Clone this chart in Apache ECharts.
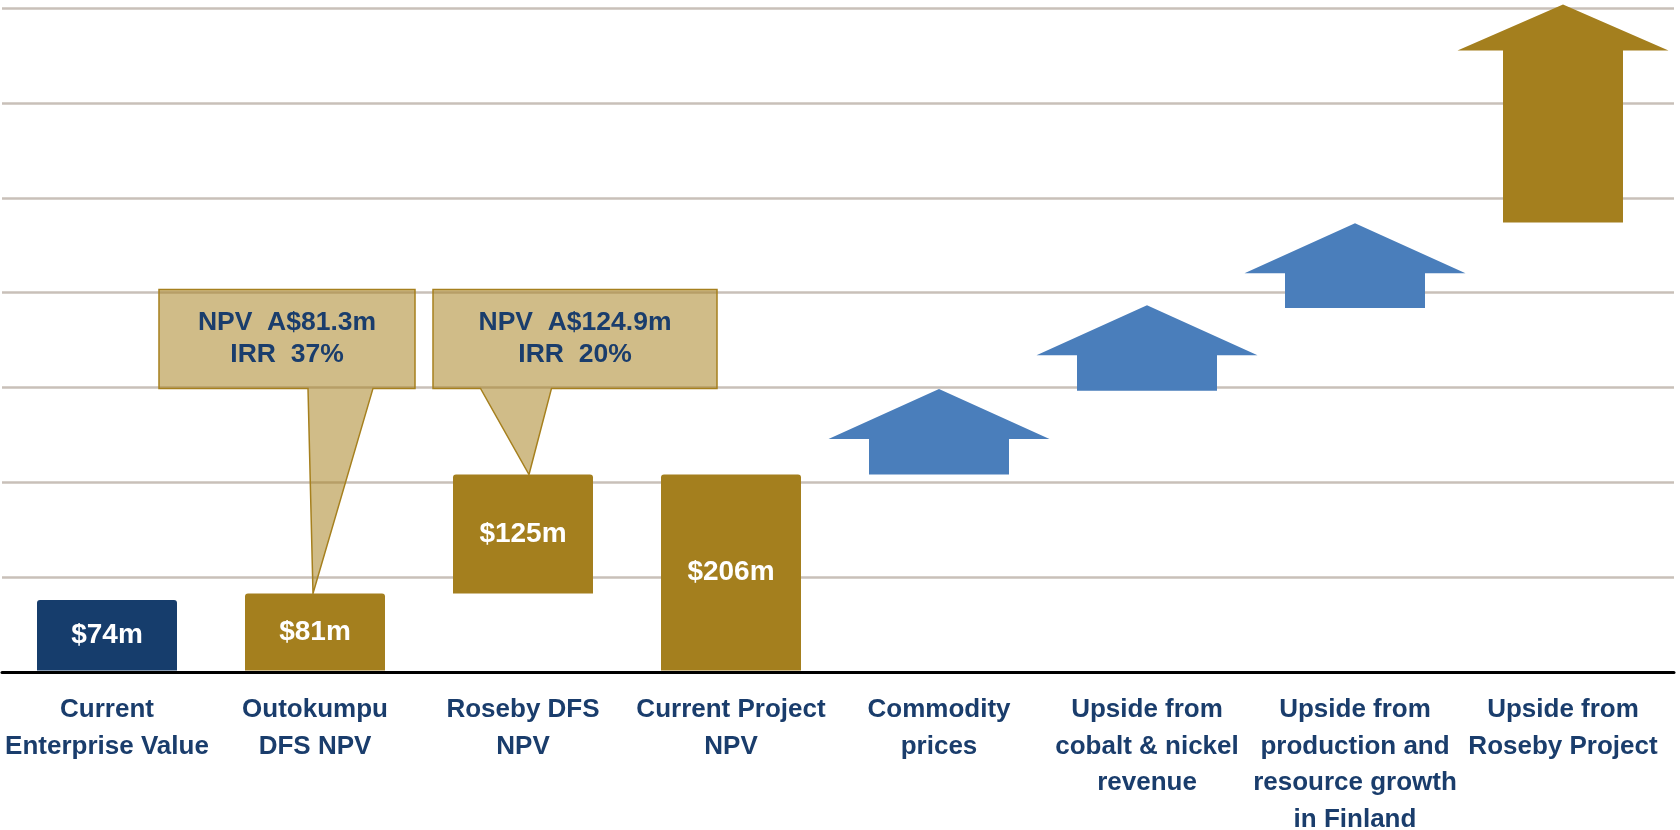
<!DOCTYPE html>
<html>
<head>
<meta charset="utf-8">
<script src="https://cdn.jsdelivr.net/npm/echarts@6/dist/echarts.min.js"></script>
<style>
  html, body { margin: 0; padding: 0; background: #ffffff; }
  #chart { width: 1680px; height: 830px; }
</style>
</head>
<body>
<div id="chart"></div>
<script>
// ---------------- DATA ----------------
const categories = [
  'Current\nEnterprise Value',
  'Outokumpu\nDFS NPV',
  'Roseby DFS\nNPV',
  'Current Project\nNPV',
  'Commodity\nprices',
  'Upside from\ncobalt & nickel\nrevenue',
  'Upside from\nproduction and\nresource growth\nin Finland',
  'Upside from\nRoseby Project'
];
// value bars ($m): invisible base + visible value
const barBase   = [0, 0, 81, 0];
const barValues = [74, 81, 125, 206];
// illustrative upside arrows (start value -> tip value)
const arrowCategoryIndex = [4, 5, 6, 7];
const arrowStart = [206, 294, 381, 471];
const arrowEnd   = [296, 384, 470, 700];
// callouts pointing at bars
const calloutCategoryIndex = [1, 2];
const calloutNPV = ['A$81.3m', 'A$124.9m'];
const calloutIRR = ['37%', '20%'];
// value axis
const yMin = 0, yMax = 700, yInterval = 100;

// ---------------- STYLE ----------------
const FONT = '"Liberation Sans", Arial, sans-serif';
const NAVY = '#163d6c';
const GOLD = '#a47f1e';
const BLUE = '#4a7ebb';
const TEXT_NAVY = '#1a3d6c';
const GRID_GREY = '#c9c0b9';
const CALLOUT_FILL = 'rgba(166,128,30,0.53)';
const CALLOUT_STROKE = '#a6801e';

const ARROW_STYLE = [
  { color: BLUE, body: 140, head: 221, headH: 50 },
  { color: BLUE, body: 140, head: 221, headH: 50 },
  { color: BLUE, body: 140, head: 221, headH: 50 },
  { color: GOLD, body: 120, head: 211, headH: 46 }
];
// callout geometry (pixel offsets from the bar centre, box in value units)
const CALLOUT_LAYOUT = [
  { boxL: -156, boxR: 100, baseL: -7, baseR: 58, tipDx: -2 },
  { boxL: -90, boxR: 194, baseL: -42.5, baseR: 28.5, tipDx: 6 }
];
const CALLOUT_BOX = { topVal: 400.5, bottomVal: 296.5 };

const chart = echarts.init(document.getElementById('chart'), null, { renderer: 'canvas' });

const arrowData = arrowCategoryIndex.map((c, i) => [c, arrowStart[i], arrowEnd[i]]);
const calloutData = calloutCategoryIndex.map(c => [c, barBase[c] + barValues[c]]);

const option = {
  animation: false,
  backgroundColor: '#ffffff',
  grid: [
    { left: 2, right: 6, top: 8.3, bottom: 158.2, containLabel: false, outerBoundsMode: 'none' },
    { left: 3, right: 13, top: 4.5, bottom: 159.5, containLabel: false, outerBoundsMode: 'none' }
  ],
  xAxis: [
    {
      gridIndex: 0, type: 'value', min: 0, max: 1,
      axisLine: { show: true, lineStyle: { color: '#000000', width: 3 } },
      axisTick: { show: false }, axisLabel: { show: false }, splitLine: { show: false }
    },
    {
      gridIndex: 1, type: 'category', data: categories, boundaryGap: true,
      axisLine: { show: false }, axisTick: { show: false }, splitLine: { show: false },
      axisLabel: {
        interval: 0, margin: 21.5, color: TEXT_NAVY, fontSize: 26, fontWeight: 'bold',
        fontFamily: FONT, lineHeight: 36.5, align: 'center'
      }
    }
  ],
  yAxis: [
    {
      gridIndex: 0, type: 'value', min: yMin, max: yMax, interval: yInterval,
      axisLine: { show: false }, axisTick: { show: false }, axisLabel: { show: false },
      splitLine: { show: true, lineStyle: { color: GRID_GREY, width: 2.5 } }
    },
    {
      gridIndex: 1, type: 'value', min: yMin, max: yMax, interval: yInterval, show: false,
      splitLine: { show: false }
    }
  ],
  series: [
    {
      type: 'bar', xAxisIndex: 1, yAxisIndex: 1, stack: 'w', data: barBase,
      barWidth: 140, silent: true, itemStyle: { color: 'rgba(0,0,0,0)' }
    },
    {
      type: 'bar', xAxisIndex: 1, yAxisIndex: 1, stack: 'w', data: barValues,
      barWidth: 140, z: 3,
      itemStyle: {
        color: p => (p.dataIndex === 0 ? NAVY : GOLD),
        borderRadius: [3, 3, 0, 0]
      },
      label: {
        show: true, position: 'inside', formatter: p => '$' + p.value + 'm',
        color: '#ffffff', fontSize: 28, fontWeight: 'bold', fontFamily: FONT
      }
    },
    {
      type: 'custom', xAxisIndex: 1, yAxisIndex: 1, z: 4, data: arrowData,
      renderItem: function (params, api) {
        const S = ARROW_STYLE[params.dataIndex];
        const b = api.coord([api.value(0), api.value(1)]);
        const t = api.coord([api.value(0), api.value(2)]);
        const x = b[0];
        const sh = t[1] + S.headH;
        return {
          type: 'polygon',
          shape: { points: [
            [x - S.body / 2, b[1]], [x - S.body / 2, sh], [x - S.head / 2, sh],
            [x, t[1]], [x + S.head / 2, sh], [x + S.body / 2, sh], [x + S.body / 2, b[1]]
          ] },
          style: { fill: S.color }
        };
      }
    },
    {
      type: 'custom', xAxisIndex: 1, yAxisIndex: 1, z: 5, data: calloutData,
      renderItem: function (params, api) {
        const k = params.dataIndex;
        const L = CALLOUT_LAYOUT[k];
        const tip = api.coord([api.value(0), api.value(1)]);
        const cx = tip[0];
        const top = api.coord([api.value(0), CALLOUT_BOX.topVal])[1];
        const bot = api.coord([api.value(0), CALLOUT_BOX.bottomVal])[1];
        const pts = [
          [cx + L.boxL, top], [cx + L.boxR, top], [cx + L.boxR, bot],
          [cx + L.baseR, bot], [cx + L.tipDx, tip[1]], [cx + L.baseL, bot],
          [cx + L.boxL, bot]
        ];
        return {
          type: 'group',
          children: [
            { type: 'polygon', shape: { points: pts },
              style: { fill: CALLOUT_FILL, stroke: CALLOUT_STROKE, lineWidth: 1.5 } },
            { type: 'text', x: cx + (L.boxL + L.boxR) / 2, y: (top + bot) / 2,
              style: {
                text: 'NPV  ' + calloutNPV[k] + '\nIRR  ' + calloutIRR[k],
                fill: TEXT_NAVY, fontSize: 26.5, fontWeight: 'bold', fontFamily: FONT,
                align: 'center', verticalAlign: 'middle', lineHeight: 32.4
              } }
          ]
        };
      }
    }
  ]
};
chart.setOption(option);
</script>
</body>
</html>
